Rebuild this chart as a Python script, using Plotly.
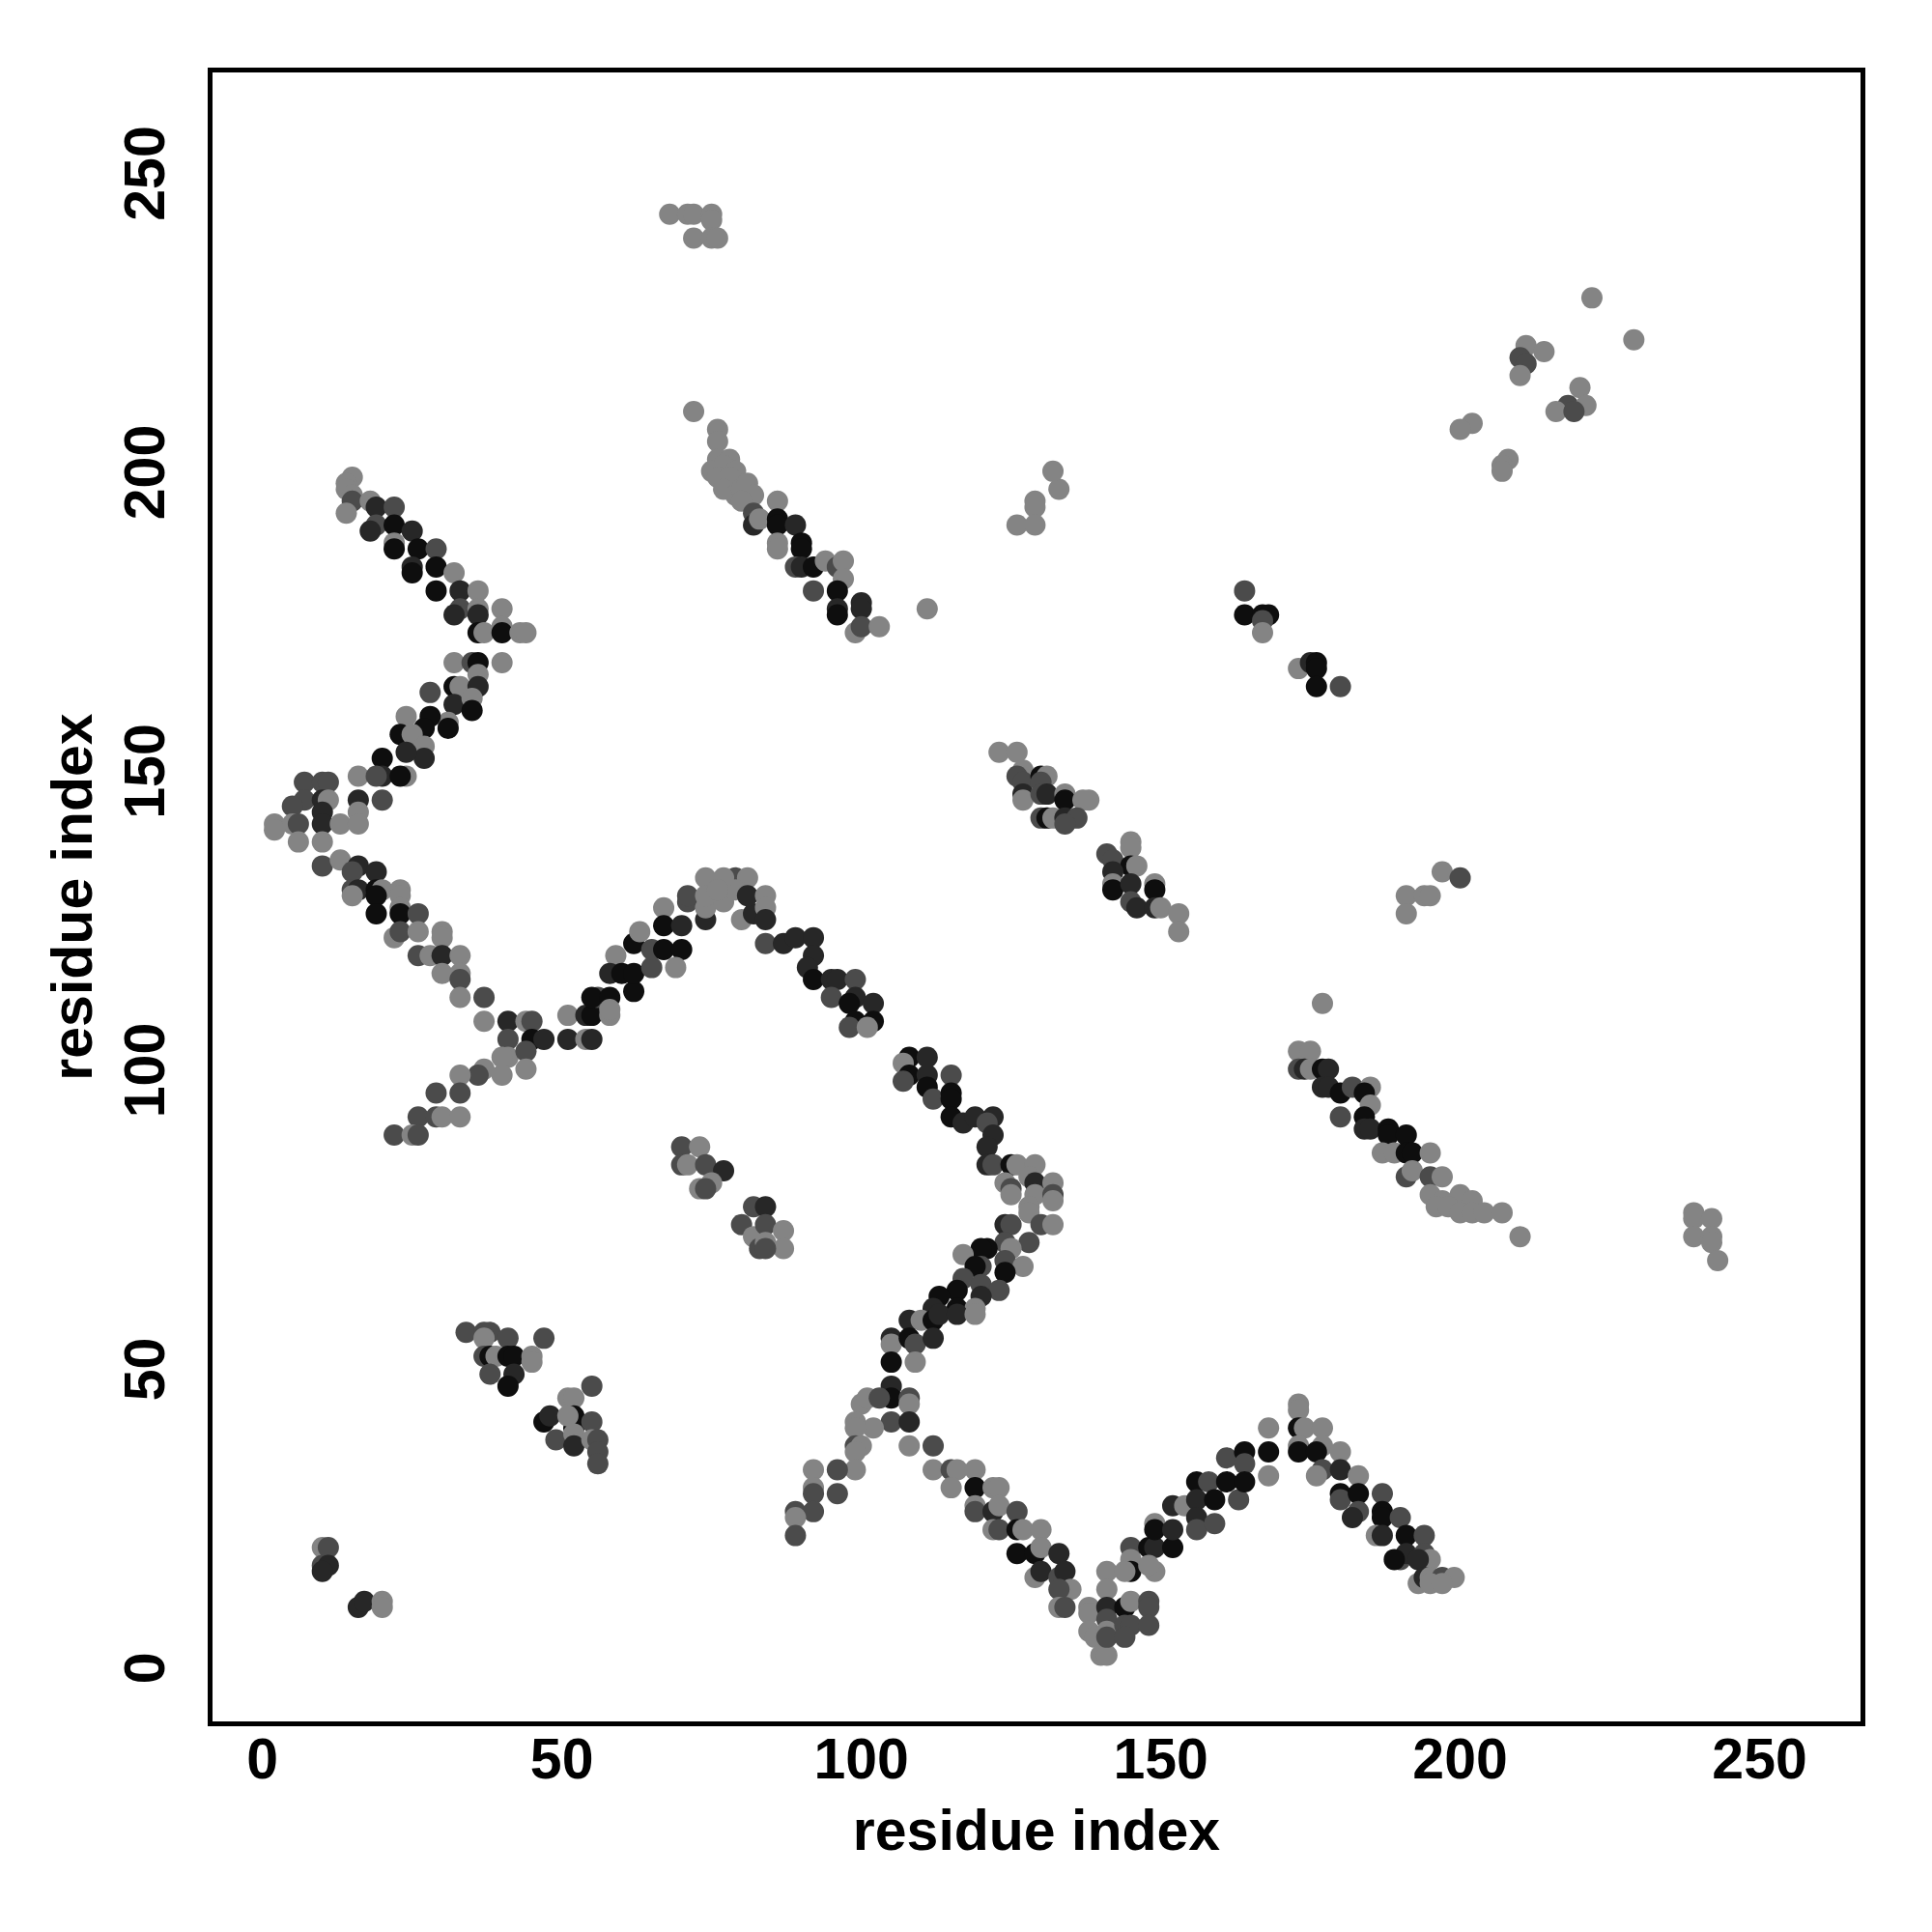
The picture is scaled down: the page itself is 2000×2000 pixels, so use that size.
import plotly.graph_objects as go

# Contact map: (residue i, residue j, shade level) ; level 0=strongest(black) .. 3=weakest(light gray)
top_patch = [(68,243,3),(71,243,3),(72,243,3),(75,243,3),(75,242,3),(72,239,3),(75,239,3),(76,239,3)]

upper_right = [(222,229,3),(229,222,3),(211,221,3),(214,220,3),(210,219,2),(211,218,2),(210,216,3),
               (220,214,3),(218,211,2),(221,211,3),(216,210,3),(219,210,2),(202,208,3),(200,207,3),
               (208,202,3),(207,201,3),(207,200,3)]

band_75_100 = [(72,210,3),(76,207,3),(76,205,3),(76,202,3),(78,202,3),(75,200,3),(77,201,3),(79,200,3),
               (76,199,3),(78,199,3),(77,197,3),(79,196,3),(80,197,3),(81,198,3),(82,196,3),(80,195,3),
               (82,193,2),(82,191,1),(83,192,3),(86,195,3),(86,192,0),(86,191,0),(89,191,1),(86,188,3),
               (86,187,3),(90,188,0),(90,187,0),(89,184,2),(90,184,1),(92,184,0),(94,185,3),(96,184,2),
               (97,185,3),(97,182,3),(92,180,2),(96,180,0),(96,177,1),(96,176,0),(100,178,1),(100,177,1),
               (99,173,3),(100,174,2),(103,174,3),(111,177,3)]

cluster_130_195 = [(129,195,3),(129,194,3),(133,197,3),(126,191,3),(129,191,3),(132,200,3)]

cluster_165_175 = [(164,180,2),(164,176,0),(167,176,0),(168,176,0),(167,175,2),(167,173,3),(173,167,3),
                   (175,168,1),(176,168,0),(176,167,0),(176,164,0),(180,164,2)]

upper_left_desc = [(15,199,3),(14,198,3),(14,197,3),(15,196,3),(15,195,2),(14,193,3),(18,195,3),(19,194,1),
                   (22,194,2),(19,191,2),(18,190,1),(22,191,0),(25,190,1),(22,188,3),(22,187,0),(26,187,0),
                   (29,187,2),(25,184,1),(29,184,0),(25,183,0),(32,183,3),(29,180,0),(33,180,1),(36,180,3),
                   (33,177,2),(36,177,3),(40,177,3),(32,176,1),(36,176,1),(36,173,0),(37,173,3),(40,174,3),
                   (40,173,0),(43,173,3),(44,173,3)]

left_rise = [(32,168,3),(35,168,2),(36,168,0),(40,168,3),(36,166,3),(28,163,2),(32,164,0),(33,164,3),
             (36,164,1),(32,161,1),(35,162,3),(35,160,0),(31,158,3),(31,157,0),(28,159,0),(24,159,3),
             (27,157,0),(23,156,0),(25,156,3),(27,154,3),(27,152,1),(24,153,1),(20,152,0),(20,149,1),
             (24,149,3),(23,149,0),(16,149,3),(19,149,2),(16,145,1),(20,145,2),(16,143,3),(7,148,2),
             (10,148,2),(11,148,2),(7,145,2),(5,144,2),(10,145,1),(11,145,3),(10,143,1),(2,141,3),
             (5,141,3),(6,141,2),(10,141,1),(13,141,3),(16,141,3),(2,140,3),(6,138,3),(10,138,3)]

left_desc2 = [(10,134,2),(13,135,3),(16,134,1),(19,133,1),(15,133,2),(15,130,2),(16,130,1),(19,130,0),
              (20,130,3),(23,130,3),(15,129,3),(19,129,0),(23,129,3),(19,126,0),(23,127,3),(23,126,0),
              (26,126,2),(22,122,3),(23,123,2),(26,123,3),(30,123,3),(30,122,3),(26,119,2),(28,119,3),
              (30,119,1),(33,119,3),(30,116,3),(33,116,3),(33,115,2),(33,112,3),(37,112,2),(37,108,3),
              (41,108,1),(44,108,3),(45,108,2),(41,105,2),(45,105,0),(47,105,1),(51,105,1),(54,105,3),
              (55,105,1)]

lower_left_rise = [(41,102,3),(40,102,3),(44,103,2),(44,100,3),(40,99,3),(37,100,3),(36,99,2),(33,99,3),
                   (33,96,2),(29,96,2),(26,92,2),(29,92,2),(30,92,3),(33,92,3),(22,89,2),(25,89,3),(26,89,2)]

main_arc = [(51,109,3),(54,109,1),(55,109,0),(58,109,3),(56,112,2),(55,112,0),(58,112,0),(58,110,3),
            (62,113,0),(59,119,3),(58,116,1),(60,116,0),(62,116,0),(65,117,2),(62,121,0),(65,120,2),
            (67,120,0),(70,120,0),(63,123,3),(69,117,3),(67,127,3),(67,124,0),(70,124,1),(71,128,2),
            (74,125,1),(74,127,3),(77,128,3),(80,125,3),(82,126,1),(74,132,3),(79,132,2),(81,132,3),
            (71,129,2),(74,129,3),(79,130,3),(81,129,1),(77,132,3),(76,130,3),(84,129,3),(84,127,3),
            (84,125,1),(84,121,2),(87,121,1),(89,122,1),(92,122,1),(92,119,1),(91,117,1)]

main_desc = [(92,115,0),(95,115,1),(96,115,1),(99,115,2),(95,112,2),(99,112,1),(98,111,0),(102,111,1),
             (102,108,0),(99,108,0),(98,107,2),(101,107,3),(108,102,0),(111,102,1),(107,101,3),(108,99,0),
             (107,98,2),(111,99,1),(115,99,2),(111,97,0),(112,95,2),(115,96,0),(115,95,0),(115,92,0),
             (117,91,1),(119,92,1),(122,92,1),(121,91,2),(122,89,1),(121,87,1),(121,84,1),(122,84,2),
             (125,84,0),(126,84,3),(129,84,3),(124,81,3),(125,80,2),(125,79,3),(128,82,3),(129,81,1),
             (129,79,3),(128,77,3),(132,81,3),(132,79,2),(132,78,3),(128,76,3),(124,74,1),(125,74,2),
             (130,74,2),(132,74,3),(128,71,2),(124,71,2),(125,70,3),(121,70,0),(120,70,0),(117,69,3),
             (124,68,2),(127,67,3),(120,67,2),(119,67,0),(124,66,0),(117,65,2),(120,64,2),(123,63,2),
             (116,63,0),(113,62,0),(120,62,1),(116,60,0),(119,60,3),(112,60,1)]

mid_lower = [(108,58,1),(110,58,3),(112,58,0),(113,59,1),(116,59,1),(119,59,3),(105,55,1),(105,54,3),
             (108,55,0),(109,54,2),(112,55,1),(109,51,3),(105,51,0),(105,47,1),(105,45,0),(108,45,2),
             (108,44,3),(100,44,3),(101,45,3),(103,45,2),(105,41,2),(108,41,1),(99,41,3),(102,40,3),
             (99,40,3),(99,37,2),(100,37,3),(99,36,3),(99,33,3),(96,33,2),(92,33,3),(92,30,3),(92,29,2),
             (96,29,2),(89,26,2),(92,26,2),(89,25,3),(89,22,2),(108,37,3),(112,37,2)]

lower_desc = [(112,33,3),(115,33,2),(116,33,3),(119,33,3),(115,30,3),(119,30,0),(122,30,3),(123,30,3),
              (119,27,3),(119,26,2),(122,26,1),(123,27,3),(126,26,2),(122,23,3),(123,23,2),(126,23,0),
              (127,23,3),(130,23,3),(126,19,0),(129,19,0),(130,20,3),(133,19,1),(129,15,3),(130,16,1),
              (133,15,2),(134,16,1),(135,13,3),(133,13,2),(133,10,3),(134,10,2)]

v_bottom = [(138,10,3),(138,9,3),(138,6,3),(139,5,3),(140,2,3),(141,2,3),(141,16,3),(141,13,3),
            (141,10,1),(141,8,2),(141,6,3),(141,5,2),(144,10,0),(145,11,3),(144,7,2),(145,7,2),
            (144,5,2),(148,11,2),(148,10,2),(148,7,2)]

lower_rise = [(145,20,2),(145,18,3),(145,16,0),(144,16,3),(148,20,0),(149,20,1),(149,16,3),(148,17,3),
              (149,24,3),(149,23,0),(152,20,0),(152,23,1),(152,27,1),(154,27,3),(156,31,0),(156,28,1),
              (156,25,1),(156,23,2),(158,31,2),(159,28,0),(159,24,2),(161,35,2),(161,31,0),(163,28,2),
              (164,36,0),(164,34,2),(164,31,0),(168,32,3),(168,36,0),(168,40,3),(173,44,3),(173,43,3),
              (173,40,0),(174,40,3),(173,37,3),(173,36,0)]

lower_right_desc = [(177,40,3),(177,37,3),(176,36,0),(177,33,2),(176,32,3),(180,36,3),(180,33,1),
                    (183,32,3),(180,29,0),(180,28,2),(183,29,0),(187,29,2),(183,26,2),(182,25,1),
                    (187,26,0),(187,25,0),(190,25,2),(186,22,3),(187,22,1),(191,22,0),(194,22,2),
                    (190,18,2),(191,19,1),(189,18,0),(194,19,2),(195,18,3),(193,18,1),(193,14,3),
                    (194,15,1),(195,15,3),(197,15,2),(199,15,3),(195,14,3),(197,14,3)]

right_mid_cluster = [(123,153,3),(126,153,3),(127,150,3),(126,149,2),(127,148,2),(130,149,0),(131,149,3),
                     (130,148,2),(127,146,1),(127,145,3),(130,146,2),(131,146,1),(134,146,3),(134,145,0),
                     (137,145,3),(138,145,3),(130,142,2),(131,142,0),(132,142,3),(134,142,1),(136,142,2),
                     (134,141,2),(145,138,3),(145,137,3),(141,136,2),(142,135,2),(145,134,0),(146,134,3),
                     (142,133,1),(142,131,3),(142,130,0),(145,131,1),(149,131,3),(149,130,0),(145,128,2),
                     (146,127,1),(149,127,1),(150,127,3),(153,126,3),(153,123,3)]

right_cluster_190 = [(191,129,3),(191,126,3),(194,129,3),(195,129,3),(197,133,3),(200,132,2)]

right_desc = [(177,111,3),(173,103,3),(175,103,3),(173,100,2),(174,100,1),(175,100,3),(177,100,0),
              (178,100,1),(177,97,1),(178,97,1),(180,96,0),(182,97,2),(185,97,3),(184,96,0),(185,94,3),
              (180,92,2),(184,92,0),(184,90,1),(185,90,1),(188,90,0),(188,89,0),(191,89,0),(187,86,3),
              (189,86,3),(191,86,0),(192,86,0),(195,86,3),(191,82,2),(192,83,3),(195,82,2),(197,82,3),
              (195,79,3),(197,78,3),(200,79,3),(202,78,3),(196,77,3),(198,77,3),(200,76,3),(202,76,3),
              (204,76,3),(207,76,3),(210,72,3)]

far_right = [(239,76,3),(239,75,3),(242,75,3),(239,72,3),(242,72,3),(242,71,3),(243,68,3)]

mid_left_clusters = [(70,87,2),(73,87,3),(70,84,2),(71,84,3),(74,84,2),(77,83,1),(73,80,3),(75,81,3),
                     (74,80,2),(80,74,2),(82,77,2),(82,72,3),(83,70,2),(84,77,1),(84,74,2),(87,73,3),
                     (84,71,3),(87,70,3),(84,70,2)]

lower_left_clusters = [(34,56,2),(37,56,2),(38,56,2),(37,55,3),(41,55,2),(47,55,2),(37,52,2),(38,52,0),
                       (39,52,3),(41,52,0),(42,52,0),(45,52,3),(45,51,3),(38,49,2),(42,49,1),(41,47,0),
                       (55,47,2),(51,45,3),(52,45,3),(47,41,0),(48,42,1),(52,42,0),(52,40,0),(51,42,3),
                       (55,41,2),(49,38,2),(52,39,3),(52,37,1),(55,38,3),(56,38,2),(56,36,2),(56,34,2)]

bottom_left = [(10,20,3),(11,20,2),(10,17,2),(11,17,1),(10,16,1),(16,10,1),(17,11,1),(20,11,3),(20,10,3)]

# contact strength for each shade level
level_strength = [0.97, 0.78, 0.5, 0.06]

x_ticks = [0, 50, 100, 150, 200, 250]
y_ticks = [0, 50, 100, 150, 200, 250]

segments = [top_patch, upper_right, band_75_100, cluster_130_195, cluster_165_175, upper_left_desc,
            left_rise, left_desc2, lower_left_rise, main_arc, main_desc, mid_lower, lower_desc,
            v_bottom, lower_rise, lower_right_desc, right_mid_cluster, right_cluster_190, right_desc,
            far_right, mid_left_clusters, lower_left_clusters, bottom_left]

xs, ys, zs = [], [], []
for seg in segments:
    for i, j, lev in seg:
        xs.append(i)
        ys.append(j)
        zs.append(level_strength[lev])

fig = go.Figure(go.Scatter(
    x=xs, y=ys, mode="markers",
    marker=dict(size=22, color=zs, colorscale=[[0, "#8c8c8c"], [1, "#0a0a0a"]],
                cmin=0, cmax=1, line=dict(width=0), opacity=1),
    showlegend=False, hoverinfo="x+y"))

font = dict(family="Liberation Sans, Arial, sans-serif", size=59, color="black", weight="bold")

axis_common = dict(showgrid=False, zeroline=False, showline=True, linewidth=5, linecolor="black",
                   mirror=True, ticks="", tickfont=font)

fig.update_layout(
    width=1984, height=1984,
    margin=dict(l=212, r=66, t=67, b=210, autoexpand=False),
    paper_bgcolor="white", plot_bgcolor="white",
    xaxis=dict(range=[-8.34, 266.85], tickvals=x_ticks, ticktext=[str(v) for v in x_ticks],
               ticklabelstandoff=-17,
               title=dict(text="residue index", font=font, standoff=22), automargin=False, **axis_common),
    yaxis=dict(range=[-9.08, 266.7], tickvals=y_ticks, ticktext=[str(v) for v in y_ticks], tickangle=-90,
               ticklabelstandoff=21, ticklabelshift=10,
               title=dict(text="residue index", font=font, standoff=4), automargin=False, **axis_common),
)

fig.write_html("out.html")
